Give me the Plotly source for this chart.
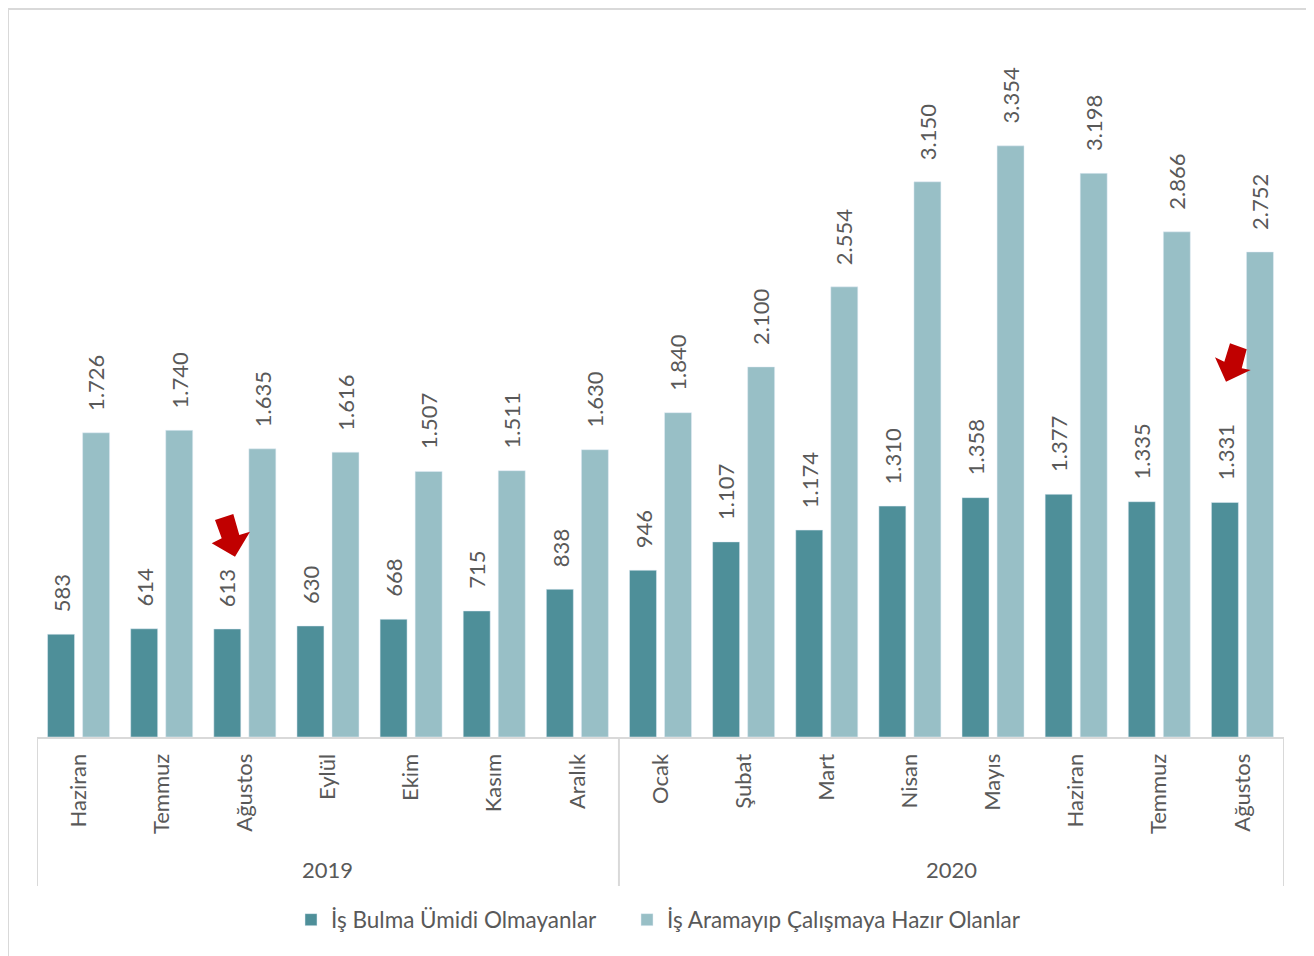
import plotly.graph_objects as go

months = ["Haziran", "Temmuz", "Ağustos", "Eylül", "Ekim", "Kasım", "Aralık",
          "Ocak", "Şubat", "Mart", "Nisan", "Mayıs", "Haziran", "Temmuz", "Ağustos"]
years = ["2019", "2020"]
year_counts = [7, 8]
umitsiz = [583, 614, 613, 630, 668, 715, 838, 946, 1107, 1174, 1310, 1358, 1377, 1335, 1331]
hazir = [1726, 1740, 1635, 1616, 1507, 1511, 1630, 1840, 2100, 2554, 3150, 3354, 3198, 2866, 2752]
series_names = ["İş Bulma Ümidi Olmayanlar", "İş Aramayıp Çalışmaya Hazır Olanlar"]

DARK = "#4E8F99"
LIGHT = "#98BFC6"
TXT = "#595959"
FONT = "Lato"

# page body has an 8px margin
BODY = 8
W, H = 1314 - BODY, 956 - BODY
ML, MR, MT, MB = 37 - BODY, 30, 32 - BODY, 219
PW, PH = W - ML - MR, H - MT - MB
X0, Y0 = ML + BODY, MT + BODY + PH   # screen position of plot origin

def fmt(v):
    return f"{v:,}".replace(",", ".")

x = list(range(len(months)))
fig = go.Figure()
fig.add_trace(go.Bar(x=x, y=umitsiz, name=series_names[0], marker_color=DARK, legend="legend"))
fig.add_trace(go.Bar(x=x, y=hazir, name=series_names[1], marker_color=LIGHT, legend="legend2"))

ann = []
off = 0.2108
for i in x:
    for vals, dx in ((umitsiz, -off), (hazir, off)):
        ann.append(dict(x=i + dx, y=vals[i], xref="x", yref="y", text=fmt(vals[i]),
                        textangle=-90, showarrow=False, yanchor="bottom", xanchor="center",
                        yshift=20, font=dict(family=FONT, size=22, color=TXT)))

shapes = []
start = -0.5
bounds = [start]
for yname, c in zip(years, year_counts):
    mid = start + c / 2
    ann.append(dict(x=mid, y=(Y0 - 869) / PH, xref="x", yref="paper", text=yname, showarrow=False,
                    yanchor="middle", font=dict(family=FONT, size=22, color=TXT)))
    start += c
    bounds.append(start)
for b in bounds:
    shapes.append(dict(type="line", xref="x", yref="paper", x0=b, x1=b, y0=0, y1=(Y0 - 886) / PH,
                       line=dict(color="#D9D9D9", width=2)))

def px_path(pts):
    s = ""
    for k, (px, py) in enumerate(pts):
        xp = (px - X0) / PW
        yp = (Y0 - py) / PH
        s += ("M" if k == 0 else "L") + f"{xp:.5f},{yp:.5f} "
    return s + "Z"

arrow1 = [(215, 520), (233.3, 514), (239.3, 535), (250, 531.7), (235, 556.7), (211.7, 543.3), (221.7, 538.3)]
arrow2 = [(1230, 343.3), (1246.7, 349.3), (1241.7, 368.3), (1250.7, 370), (1226, 381.7), (1215, 357.3), (1224.3, 361.7)]
for a in (arrow1, arrow2):
    shapes.append(dict(type="path", xref="paper", yref="paper", path=px_path(a),
                       fillcolor="#C00000", line=dict(width=0)))

shapes.append(dict(type="rect", xref="paper", yref="paper",
                   x0=(8 - X0) / PW, x1=(1311 - X0) / PW, y0=(Y0 - 970) / PH, y1=(Y0 - 9) / PH,
                   line=dict(color="#D9D9D9", width=2)))

leg_common = dict(orientation="h", xanchor="left", y=(Y0 - 920) / PH, yanchor="middle",
                  font=dict(family=FONT, size=22.5, color=TXT), itemwidth=30,
                  bgcolor="rgba(0,0,0,0)")

fig.update_layout(
    width=W, height=H,
    margin=dict(l=ML, r=MR, t=MT, b=MB),
    paper_bgcolor="white", plot_bgcolor="white",
    barmode="group", bargap=0.157, bargroupgap=0.23,
    font=dict(family=FONT, size=22, color=TXT),
    xaxis=dict(range=[-0.5, len(months) - 0.5], tickvals=x, ticktext=months, tickangle=-90,
               showline=True, linecolor="#D9D9D9", linewidth=2, showgrid=False, zeroline=False,
               ticks="outside", ticklen=6, tickcolor="rgba(0,0,0,0)",
               tickfont=dict(family=FONT, size=22, color=TXT)),
    yaxis=dict(range=[0, 4000], visible=False),
    legend=dict(x=(291 - X0) / PW, **leg_common),
    legend2=dict(x=(627 - X0) / PW, **leg_common),
    annotations=ann,
    shapes=shapes,
    showlegend=True,
)

fig.write_html("out.html")
